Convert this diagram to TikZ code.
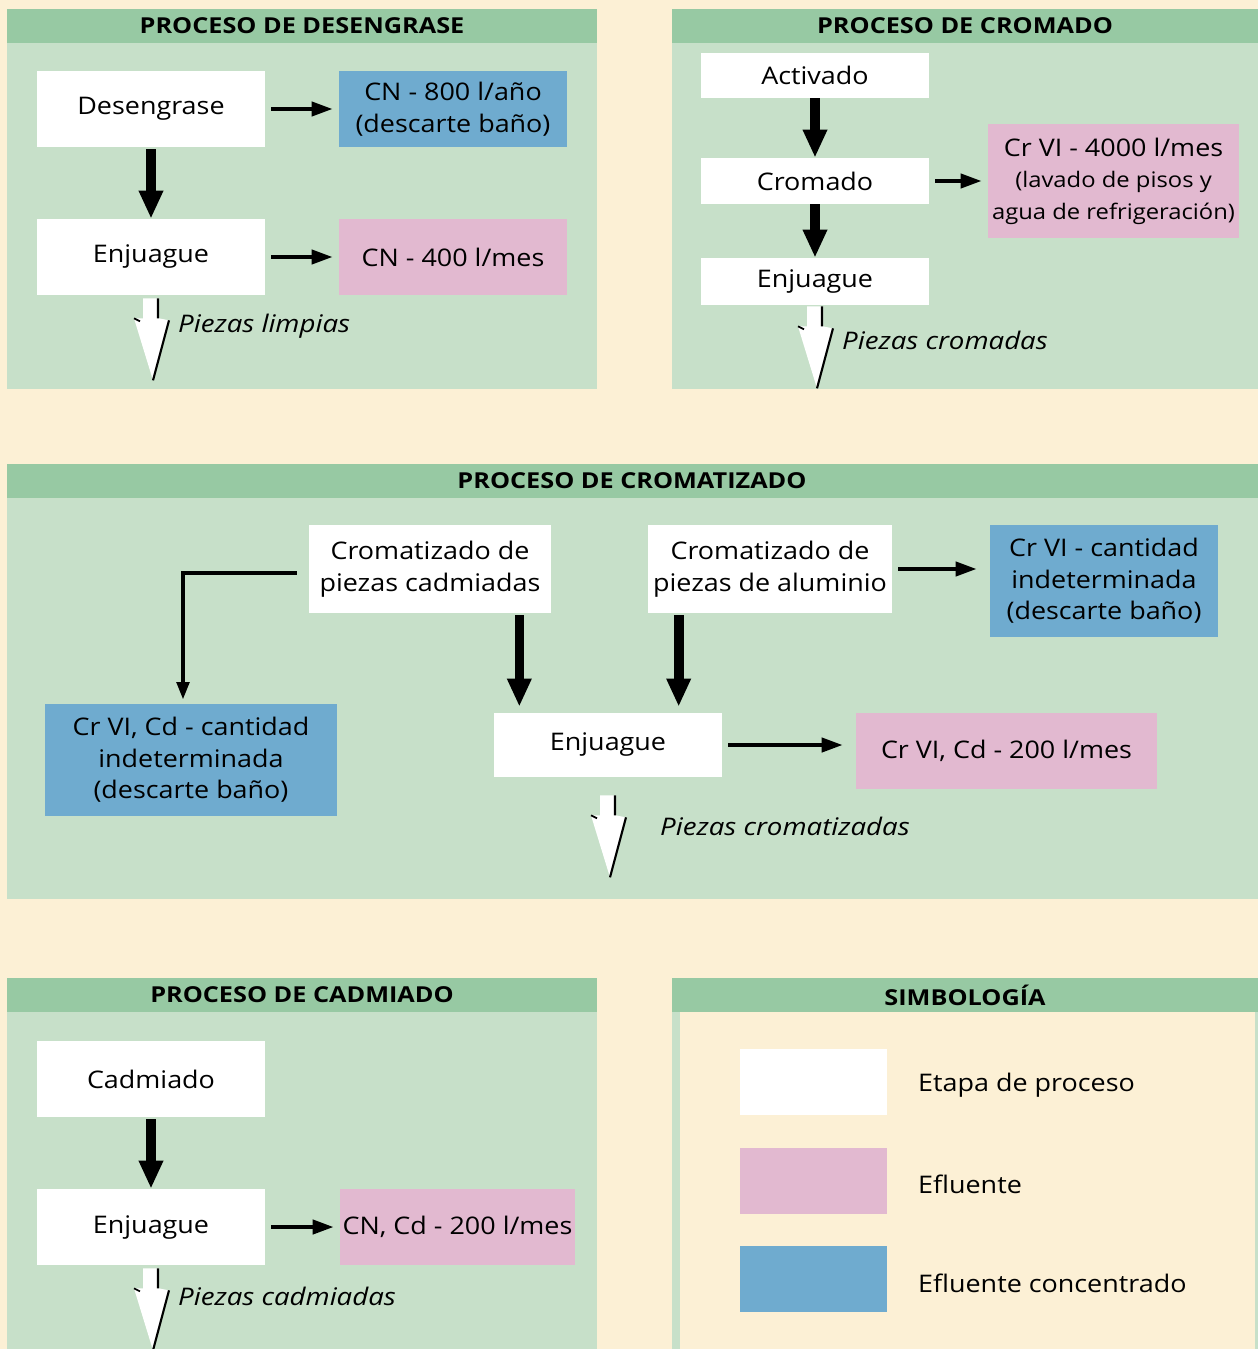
\documentclass[tikz,border=0pt]{standalone}
\usepackage{fontspec}
\setmainfont{Open Sans}[FakeStretch=1.11]
\newfontfamily\fuentetit{Open Sans}[FakeStretch=1.15]
\newfontfamily\fuenteit{Open Sans}[FakeStretch=1.14]
\usetikzlibrary{positioning,calc,arrows.meta}

\definecolor{crema}{HTML}{FCF0D5}
\definecolor{banda}{HTML}{97C9A3}
\definecolor{panel}{HTML}{C7E0C9}
\definecolor{azul}{HTML}{6FABCF}
\definecolor{rosa}{HTML}{E2B9D0}

\newcommand\tamtexto{\fontsize{13.8}{18}\selectfont}
\newcommand\tamchico{\fontsize{12.2}{17}\selectfont}

\tikzset{
  proc/.style={fill=white, minimum width=4.56cm, minimum height=1.52cm,
    align=center, inner sep=0pt, font=\tamtexto},
  efl/.style={proc, fill=rosa},
  efc/.style={proc, fill=azul},
  titulo/.style={font=\fuentetit\bfseries\fontsize{12.5}{14}\selectfont},
  salidatxt/.style={anchor=west, font=\fuenteit\itshape\tamtexto},
  flecha/.style={-{Triangle[length=12pt,width=8pt]}, line width=2.3pt,
    shorten <=0.12cm, shorten >=0.12cm},
  gruesa/.style={-{Triangle[length=16pt,width=13pt]}, line width=5.5pt,
    shorten <=0.04cm, shorten >=0pt},
  salida/.pic={
    \fill[white] (-8,0) -- (8,0) -- (8,20) -- (18,22) -- (2,82)
      -- (-17,20) -- (-8,20) -- cycle;
    \draw[line width=1.2pt] (7,0) -- (7,20) (18,22) -- (2,82);
    \draw[line width=1pt] (-17,20) -- (-11,23);
  }
}

\begin{document}
\begin{tikzpicture}[x=0.02cm, y=-0.02cm]
    % Fondo
    \fill[crema] (0,0) rectangle (1258,1349);
    \useasboundingbox (0,0) rectangle (1258,1349);

    % Paneles
    \fill[panel] (7,9) rectangle (597,389);
    \fill[panel] (672,9) rectangle (1258,389);
    \fill[panel] (7,464) rectangle (1258,899);
    \fill[panel] (7,978) rectangle (597,1349);
    \fill[panel] (672,978) rectangle (1258,1349);
    \fill[crema] (680,1012) rectangle (1255,1349);
    \foreach \x/\y/\w in {7/9/590, 672/9/586, 7/464/1251, 7/978/590, 672/978/586}
        \fill[banda] (\x,\y) rectangle ++(\w,34);

    % Titulos
    \node[titulo] (t1) at (302,26) {PROCESO DE DESENGRASE};
    \node[titulo] (t2) at (965,26) {PROCESO DE CROMADO};
    \node[titulo] (t3) at (632,481) {PROCESO DE CROMATIZADO};
    \node[titulo] (t4) at (302,995) {PROCESO DE CADMIADO};
    \node[titulo] (t5) at (965,995) {SIMBOLOGÍA};

    % Desengrase
    \node[proc] (desen) at (151,109) {Desengrase};
    \node[efc] (cn800) at (453,109) {CN - 800 l/año\\(descarte baño)};
    \node[proc] (enj1) at (151,257) {Enjuague};
    \node[efl] (cn400) at (453,257) {CN - 400 l/mes};
    \draw[flecha] (desen) -- (cn800);
    \draw[flecha] (enj1) -- (cn400);
    \draw[gruesa] (desen) -- (enj1);
    \pic at ($(enj1.south)+(0,3)$) {salida};
    \node[salidatxt] (sal1) at (172,326) {Piezas limpias};

    % Cromado
    \node[proc, minimum height=0.9cm] (activ) at (815,75.5) {Activado};
    \node[proc, minimum height=0.92cm] (crom) at (815,181) {Cromado};
    \node[proc, minimum height=0.94cm] (enj2) at (815,281.5) {Enjuague};
    \node[efl, minimum width=5.02cm, minimum height=2.28cm] (cr4000) at (1113.5,181)
        {Cr VI - 4000 l/mes\\{\tamchico(lavado de pisos y}\\{\tamchico agua de refrigeración)}};
    \draw[gruesa, shorten <=0pt] (activ) -- (crom);
    \draw[gruesa, shorten <=0pt] (crom) -- (enj2);
    \draw[flecha] (crom) -- (cr4000);
    \pic at ($(enj2.south)+(0,1)$) {salida};
    \node[salidatxt] (sal2) at (836,340) {Piezas cromadas};

    % Cromatizado
    \node[proc, minimum width=4.84cm, minimum height=1.76cm] (cadm) at (430,569)
        {Cromatizado de\\piezas cadmiadas};
    \node[proc, minimum width=4.88cm, minimum height=1.76cm] (alum) at (770,569)
        {Cromatizado de\\piezas de aluminio};
    \node[efc, minimum height=2.24cm] (crvi1) at (1104,581)
        {Cr VI - cantidad\\indeterminada\\(descarte baño)};
    \node[efc, minimum width=5.84cm, minimum height=2.24cm] (crvi2) at (191,760)
        {Cr VI, Cd - cantidad\\indeterminada\\(descarte baño)};
    \node[proc, minimum height=1.28cm] (enj3) at (608,745) {Enjuague};
    \node[efl, minimum width=6.02cm] (crcd) at (1006.5,751) {Cr VI, Cd - 200 l/mes};
    \draw[flecha, shorten >=0.26cm] (alum.east) -- (alum.east -| crvi1.west);
    \draw[flecha, shorten >=0.26cm] (enj3.east) -- (enj3.east -| crcd.west);
    \draw[flecha, -{Triangle[length=10pt,width=7pt]}, shorten >=0.08cm]
        ($(cadm.west)+(-6,4)$) -| ($(crvi2.north)+(-8,0)$);
    \coordinate (c1) at ($(cadm.south east)+(-32,0)$);
    \coordinate (c2) at ($(alum.south west)+(31,0)$);
    \draw[gruesa, shorten >=0.12cm] (c1) -- (c1 |- enj3.north);
    \draw[gruesa, shorten >=0.12cm] (c2) -- (c2 |- enj3.north);
    \pic at ($(enj3.south)+(0,18)$) {salida};
    \node[salidatxt] (sal3) at (654,826) {Piezas cromatizadas};

    % Cadmiado
    \node[proc] (cadmi) at (151,1079) {Cadmiado};
    \node[proc] (enj4) at (151,1227) {Enjuague};
    \node[efl, minimum width=4.7cm] (cncd) at (457.5,1227) {CN, Cd - 200 l/mes};
    \draw[gruesa] (cadmi) -- (enj4);
    \draw[flecha] (enj4) -- (cncd);
    \pic at ($(enj4.south)+(0,3)$) {salida};
    \node[salidatxt] (sal4) at (172,1296) {Piezas cadmiadas};

    % Simbologia
    \node[proc, minimum width=2.94cm, minimum height=1.32cm] (symw) at (813.5,1082) {};
    \node[efl, minimum width=2.94cm, minimum height=1.32cm] (symp) at (813.5,1181) {};
    \node[efc, minimum width=2.94cm, minimum height=1.32cm] (symb) at (813.5,1279) {};
    \node[anchor=west, font=\tamtexto] (lw) at (912,1085) {Etapa de proceso};
    \node[anchor=west, font=\tamtexto] (lp) at (912,1184) {Efluente};
    \node[anchor=west, font=\tamtexto] (lb) at (912,1283) {Efluente concentrado};
\end{tikzpicture}
\end{document}
